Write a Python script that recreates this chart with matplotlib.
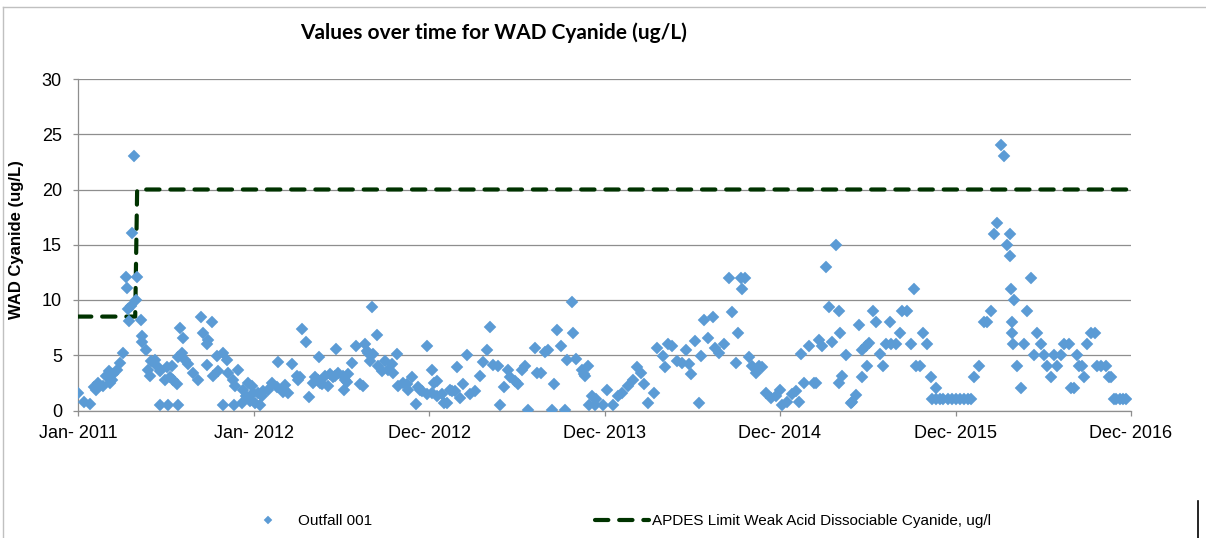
import matplotlib
matplotlib.use("Agg")
import matplotlib.pyplot as plt
from matplotlib.lines import Line2D
import pandas as pd
import numpy as np

# ---------------- data ----------------
title = "Values over time for WAD Cyanide (ug/L)"
y_label = "WAD Cyanide (ug/L)"
series_name = "Outfall 001"
limit_name = "APDES Limit Weak Acid Dissociable Cyanide, ug/l"

days_2011 = ['01-11','01-23','02-03','02-11','02-17','02-21','03-02','03-08','03-14','03-18','03-22','03-24',
             '04-01','04-07','04-13','04-19','04-21','04-23','04-25','04-29','05-02','05-06','05-10','05-12',
             '05-20','05-21','05-23','05-31','06-04','06-08','06-09','06-18','06-22','06-28','06-29','07-09',
             '07-13','07-15','07-19','07-23','07-25','08-03','08-04','08-05','08-09','08-13','08-15','08-19',
             '08-25','09-05','09-15','09-21','09-25','10-03','10-04','10-06','10-14','10-16','10-24','10-26',
             '11-05','11-06','11-14','11-15','11-26','11-27','11-30','12-06','12-14','12-16','12-22','12-27',
             '12-31']
vals_2011 = [1.6,0.8,0.6,2.1,1.9,2.5,2.2,3.1,3.6,2.5,2.8,3.3,
             3.7,4.3,5.2,12.1,11.1,9.2,8.1,9.5,16.1,23.0,10.0,12.1,
             8.2,6.7,6.2,5.5,3.7,3.1,4.5,4.6,4.0,3.6,0.5,2.8,
             3.9,0.5,3.0,4.0,2.8,2.4,4.8,0.5,7.5,5.2,6.6,4.6,
             4.2,3.4,2.8,8.5,7.0,6.0,4.1,6.4,8.0,3.1,4.9,3.6,
             5.2,0.5,4.6,3.4,2.8,0.5,2.2,3.7,0.7,1.9,1.3,2.5,
             0.85]

days_2012 = ['01-04','01-06','01-10','01-16','01-20','01-24','01-27','02-06','02-14','02-25','02-27','03-08',
             '03-12','03-18','03-27','04-06','04-08','04-12','04-16','04-25','04-30','05-09','05-13','05-19',
             '05-21','05-23','05-27','06-02','06-09','06-13','06-19','06-23','06-25','06-29','07-10','07-11',
             '07-14','07-18','07-20','07-28','08-06','08-14','08-20','08-24','08-28','08-30','09-03','09-08',
             '09-10','09-18','09-20','09-28','10-04','10-10','10-19','10-21','10-29','10-31','11-10','11-18',
             '11-20','11-29','12-07','12-11','12-15','12-20','12-29','12-30']
vals_2012 = [2.2,1.6,0.7,1.6,0.5,1.3,1.75,1.9,2.5,2.1,4.4,1.7,
             2.3,1.6,4.2,3.1,2.8,3.0,7.4,6.2,1.2,2.5,3.0,2.8,
             4.8,2.5,2.4,3.1,2.2,3.3,3.0,3.1,5.6,3.4,3.1,1.9,
             2.8,2.6,3.3,4.3,5.8,2.4,2.2,6.0,5.4,5.2,4.5,9.4,
             5.1,6.8,4.0,3.6,4.5,3.7,4.2,3.4,5.1,2.2,2.5,2.4,
             1.9,3.0,0.6,2.1,1.9,1.8,1.5,5.8]

days_2013 = ['01-09','01-10','01-13','01-19','01-20','01-30','02-03','02-09','02-15','02-19','02-25','03-01',
             '03-08','03-14','03-22','03-28','04-08','04-18','04-24','05-02','05-08','05-15','05-25','05-29',
             '06-06','06-15','06-19','06-29','07-05','07-13','07-19','07-26','08-09','08-13','08-23','08-30',
             '09-05','09-13','09-17','09-25','10-02','10-10','10-14','10-24','10-28','11-03','11-14','11-18',
             '11-20','11-26','11-30','12-05','12-11','12-13','12-27']
vals_2013 = [3.7,1.6,2.5,2.7,1.3,1.5,0.7,0.7,1.9,1.8,1.8,3.9,
             1.1,2.4,5.0,1.5,1.8,3.1,4.4,5.5,7.6,4.1,4.0,0.5,
             2.1,3.7,3.0,2.7,2.4,3.7,4.0,0.05,5.7,3.4,3.4,5.3,
             5.5,0.05,2.4,7.3,5.8,0.05,4.6,9.8,7.0,4.7,3.7,3.3,
             3.1,4.0,0.5,1.3,0.5,1.0,0.5]

days_2014 = ['01-06','01-17','01-27','02-06','02-17','02-27','03-09','03-17','03-23','03-30','04-13','04-19',
             '04-30','05-04','05-10','05-20','05-30','06-08','06-18','06-24','06-28','07-05','07-13','07-19',
             '07-25','08-02','08-11','08-15','08-25','09-04','09-13','09-19','09-29','10-03','10-09','10-11',
             '10-17','10-26','11-01','11-09','11-15','11-21','11-30','12-10','12-20','12-27']
vals_2014 = [1.9,0.5,1.3,1.6,2.2,2.8,3.9,3.4,2.4,0.7,1.6,5.7,
             4.9,3.9,6.0,5.8,4.5,4.3,5.5,4.2,3.3,6.3,0.7,4.9,
             8.2,6.6,8.5,5.7,5.2,6.0,12.0,8.9,4.3,7.0,12.0,11.0,
             12.0,4.8,4.0,3.4,4.0,3.9,1.6,1.1,1.3,1.9]

days_2015 = ['01-02','01-12','01-22','01-30','02-06','02-10','02-16','02-26','03-09','03-13','03-19','03-25',
             '04-02','04-08','04-15','04-23','04-28','04-29','04-30','05-05','05-13','05-24','05-26','06-03',
             '06-09','06-15','06-16','06-24','06-25','06-30','07-08','07-14','07-22','07-29','08-04','08-12',
             '08-14','08-24','09-02','09-06','09-16','09-24','09-30','10-04','10-13','10-19','10-27','11-04',
             '11-06','11-14','11-15','11-22','11-30','12-09','12-17','12-25']
vals_2015 = [0.5,0.8,1.5,1.8,0.8,5.1,2.5,5.8,2.5,2.5,6.4,5.8,
             13.0,9.4,6.2,15.0,2.5,9.0,7.0,3.1,5.0,0.7,0.8,1.4,
             7.7,5.5,3.0,5.8,4.0,6.1,9.0,8.0,5.1,4.0,6.0,8.0,
             6.0,6.0,7.0,9.0,9.0,6.0,11.0,4.0,4.0,7.0,6.0,3.0,
             1.0,1.0,2.0,1.0,1.0,1.0,1.0,1.0]

days_2016 = ['01-03','01-11','01-19','01-27','02-01','02-11','02-21','02-27','03-07','03-13','03-19','03-27',
             '04-03','04-09','04-15','04-16','04-17','04-19','04-20','04-21','04-23','04-30','05-08','05-14',
             '05-20','05-28','06-03','06-10','06-18','06-24','06-30','07-09','07-15','07-21','07-29','08-04',
             '08-15','08-19','08-25','08-31','09-04','09-10','09-15','09-21','09-30','10-07','10-11','10-21',
             '10-30','11-05','11-09','11-15','11-21','11-28','12-04','12-10']
vals_2016 = [1.0,1.0,1.0,1.0,3.0,4.0,8.0,8.0,9.0,16.0,17.0,24.0,
             23.0,15.0,16.0,14.0,11.0,8.0,7.0,6.0,10.0,4.0,2.0,6.0,
             9.0,12.0,5.0,7.0,6.0,5.0,4.0,3.0,5.0,4.0,5.0,6.0,
             6.0,2.0,2.0,5.0,4.0,4.0,3.0,6.0,7.0,7.0,4.0,4.0,
             4.0,3.0,3.0,1.0,1.0,1.0,1.0,1.0]

limit_dates = ['2011-01-10', '2011-05-08', '2011-05-12', '2016-12-21']
limit_values = [8.5, 8.5, 20.0, 20.0]

axis_start = '2011-01-10'
tick_step_days = 362
x_tick_labels = ['Jan- 2011', 'Jan- 2012', 'Dec- 2012', 'Dec- 2013',
                 'Dec- 2014', 'Dec- 2015', 'Dec- 2016']
y_ticks = [0, 5, 10, 15, 20, 25, 30]

# ---------------- assemble ----------------
year_days = {2011: days_2011, 2012: days_2012, 2013: days_2013,
             2014: days_2014, 2015: days_2015, 2016: days_2016}
year_vals = {2011: vals_2011, 2012: vals_2012, 2013: vals_2013,
             2014: vals_2014, 2015: vals_2015, 2016: vals_2016}
sample_dates = []
sample_values = []
for yr in sorted(year_days):
    sample_dates += [pd.Timestamp(f"{yr}-{d}") for d in year_days[yr]]
    sample_values += year_vals[yr]

start = pd.Timestamp(axis_start)
x_ticks = [start + pd.Timedelta(days=tick_step_days * k) for k in range(len(x_tick_labels))]

# ---------------- figure ----------------
W, H = 1206, 538
fig = plt.figure(figsize=(W / 100, H / 100), dpi=100)
ax = fig.add_axes([78 / W, (H - 410.5) / H, 1053 / W, 331.5 / H])

grid_col = '#8e8e8e'
marker_col = '#5B9BD5'
limit_col = '#003300'

ax.plot(pd.to_datetime(limit_dates), limit_values, color=limit_col, lw=3.0,
        dashes=(3.2, 2.6), dash_capstyle='round', solid_capstyle='round',
        solid_joinstyle='round', zorder=3, label=limit_name)
ax.plot(sample_dates, sample_values, linestyle='none', marker='D', ms=6.3,
        color=marker_col, mec=marker_col, mew=0.3, zorder=4, label=series_name)

ax.set_xlim(x_ticks[0], x_ticks[-1])
ax.set_ylim(0, 30)
ax.set_yticks(y_ticks)
ax.set_xticks(x_ticks)
ax.set_xticklabels(x_tick_labels)

ax.yaxis.grid(True, color=grid_col, lw=0.9)
ax.set_axisbelow(True)
for s in ['top', 'right']:
    ax.spines[s].set_visible(False)
for s in ['left', 'bottom']:
    ax.spines[s].set_color(grid_col)
    ax.spines[s].set_linewidth(0.9)

for lab in ax.get_xticklabels() + ax.get_yticklabels():
    lab.set_family(['Liberation Sans', 'DejaVu Sans'])
    lab.set_fontsize(13)
ax.tick_params(axis='y', direction='out', length=3.6, width=0.9, color=grid_col, pad=8)
ax.tick_params(axis='x', direction='out', length=3.6, width=0.9, color=grid_col, pad=7)

fig.text(300 / W, 1 - 33 / H, title, ha='left', va='center', fontsize=15,
         fontweight='bold', family=['Lato', 'DejaVu Sans'])
fig.text(17 / W, 1 - 240 / H, y_label, ha='center', va='center', rotation=90,
         fontsize=12, fontweight='bold', family=['Liberation Sans', 'DejaVu Sans'])

handles, labels = ax.get_legend_handles_labels()
order = [1, 0]
leg = fig.legend([handles[i] for i in order], [labels[i] for i in order],
                 loc='center', bbox_to_anchor=(616 / W, 17 / H), ncol=2, frameon=False,
                 prop={'family': ['Liberation Sans', 'DejaVu Sans'], 'size': 11},
                 handlelength=3.5, handletextpad=0.2, columnspacing=14.6,
                 borderpad=0, numpoints=1, markerscale=0.7)

# chart-area border
fig.add_artist(Line2D([3 / W, 1], [1 - 7 / H, 1 - 7 / H], transform=fig.transFigure,
                      color='#c0c0c0', lw=1.0))
fig.add_artist(Line2D([3 / W, 3 / W], [0, 1 - 7 / H], transform=fig.transFigure,
                      color='#c0c0c0', lw=1.0))
fig.add_artist(Line2D([1198 / W, 1198 / W], [0, 37 / H], transform=fig.transFigure,
                      color='black', lw=1.2))

fig.savefig('out.png', dpi=100)
